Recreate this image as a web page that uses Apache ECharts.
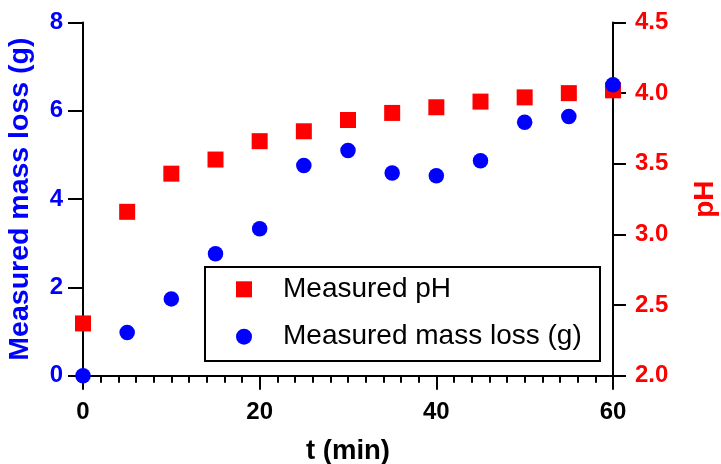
<!DOCTYPE html>
<html>
<head>
<meta charset="utf-8">
<script src="https://cdn.jsdelivr.net/npm/echarts@6/dist/echarts.min.js"></script>
<style>
html,body{margin:0;padding:0;background:#fff;overflow:hidden;}
#chart{width:721px;height:464px;}
</style>
</head>
<body>
<div id="chart"></div>
<script>
var timeMin = [0, 5, 10, 15, 20, 25, 30, 35, 40, 45, 50, 55, 60];
var measuredPH = [2.37, 3.16, 3.43, 3.53, 3.66, 3.73, 3.81, 3.86, 3.90, 3.94, 3.97, 4.00, 4.02];
var measuredMassLoss = [0, 0.98, 1.74, 2.76, 3.33, 4.76, 5.10, 4.59, 4.53, 4.87, 5.74, 5.87, 6.59];
var seriesNames = ['Measured pH', 'Measured mass loss (g)'];
var xAxisTitle = 't (min)';
var leftAxisTitle = 'Measured mass loss (g)';
var rightAxisTitle = 'pH';

var FONT = 'Liberation Sans, Arial, sans-serif';
var RED = '#ff0000', BLUE = '#0000ff';

function pairs(xs, ys) { return xs.map(function (x, i) { return [x, ys[i]]; }); }

var chart = echarts.init(document.getElementById('chart'), null, {renderer: 'canvas'});
chart.setOption({
  animation: false,
  backgroundColor: '#fff',
  textStyle: {fontFamily: FONT},
  grid: {left: 83, right: 108, top: 22.5, bottom: 88.3, containLabel: false, outerBoundsMode: 'none'},
  xAxis: {
    type: 'value', min: 0, max: 60, interval: 20,
    name: xAxisTitle, nameLocation: 'middle', nameGap: 62,
    nameTextStyle: {color: '#000', fontWeight: 'bold', fontSize: 27.5, fontFamily: FONT},
    axisLine: {show: true, lineStyle: {color: '#000', width: 2}},
    axisTick: {show: true, length: 14, lineStyle: {color: '#000', width: 2}},
    minorTick: {show: true, splitNumber: 10, length: 7, lineStyle: {color: '#000', width: 2}},
    axisLabel: {color: '#000', fontWeight: 'bold', fontSize: 24, margin: 25, fontFamily: FONT},
    splitLine: {show: false}
  },
  yAxis: [{
    type: 'value', min: 0, max: 8, interval: 2, position: 'left',
    name: leftAxisTitle, nameLocation: 'middle', nameGap: 48, nameRotate: 90,
    nameTextStyle: {color: BLUE, fontWeight: 'bold', fontSize: 28.5, fontFamily: FONT},
    axisLine: {show: true, lineStyle: {color: '#000', width: 2}},
    axisTick: {show: true, length: 15, lineStyle: {color: '#000', width: 2}},
    axisLabel: {color: BLUE, fontWeight: 'bold', fontSize: 24, margin: 20, fontFamily: FONT},
    splitLine: {show: false}
  }, {
    type: 'value', min: 2.0, max: 4.5, interval: 0.5, position: 'right',
    name: rightAxisTitle, nameLocation: 'middle', nameGap: 78, nameRotate: 90,
    nameTextStyle: {color: RED, fontWeight: 'bold', fontSize: 28, fontFamily: FONT},
    axisLine: {show: true, lineStyle: {color: '#000', width: 2}},
    axisTick: {show: true, length: 13, lineStyle: {color: '#000', width: 2}},
    axisLabel: {color: RED, fontWeight: 'bold', fontSize: 24, margin: 22, fontFamily: FONT,
      formatter: function (v) { return v.toFixed(1); }},
    splitLine: {show: false}
  }],
  legend: {
    orient: 'vertical', left: 236, top: 274.3, padding: 0, itemGap: 17.4,
    itemWidth: 16, itemHeight: 16, z: 10,
    data: seriesNames,
    textStyle: {color: '#000', fontSize: 28, lineHeight: 30, fontFamily: FONT, padding: [0, 0, 0, 26]}
  },
  graphic: [{
    type: 'rect', z: 5, silent: true,
    shape: {x: 205, y: 267, width: 395, height: 94},
    style: {fill: '#fff', stroke: '#000', lineWidth: 2}
  }],
  series: [{
    name: seriesNames[0], type: 'scatter', yAxisIndex: 1,
    symbol: 'rect', symbolSize: 16,
    itemStyle: {color: RED, opacity: 1},
    data: pairs(timeMin, measuredPH), z: 2
  }, {
    name: seriesNames[1], type: 'scatter', yAxisIndex: 0,
    symbol: 'circle', symbolSize: 15.5,
    itemStyle: {color: BLUE, opacity: 1},
    data: pairs(timeMin, measuredMassLoss), z: 3
  }]
});
</script>
</body>
</html>
